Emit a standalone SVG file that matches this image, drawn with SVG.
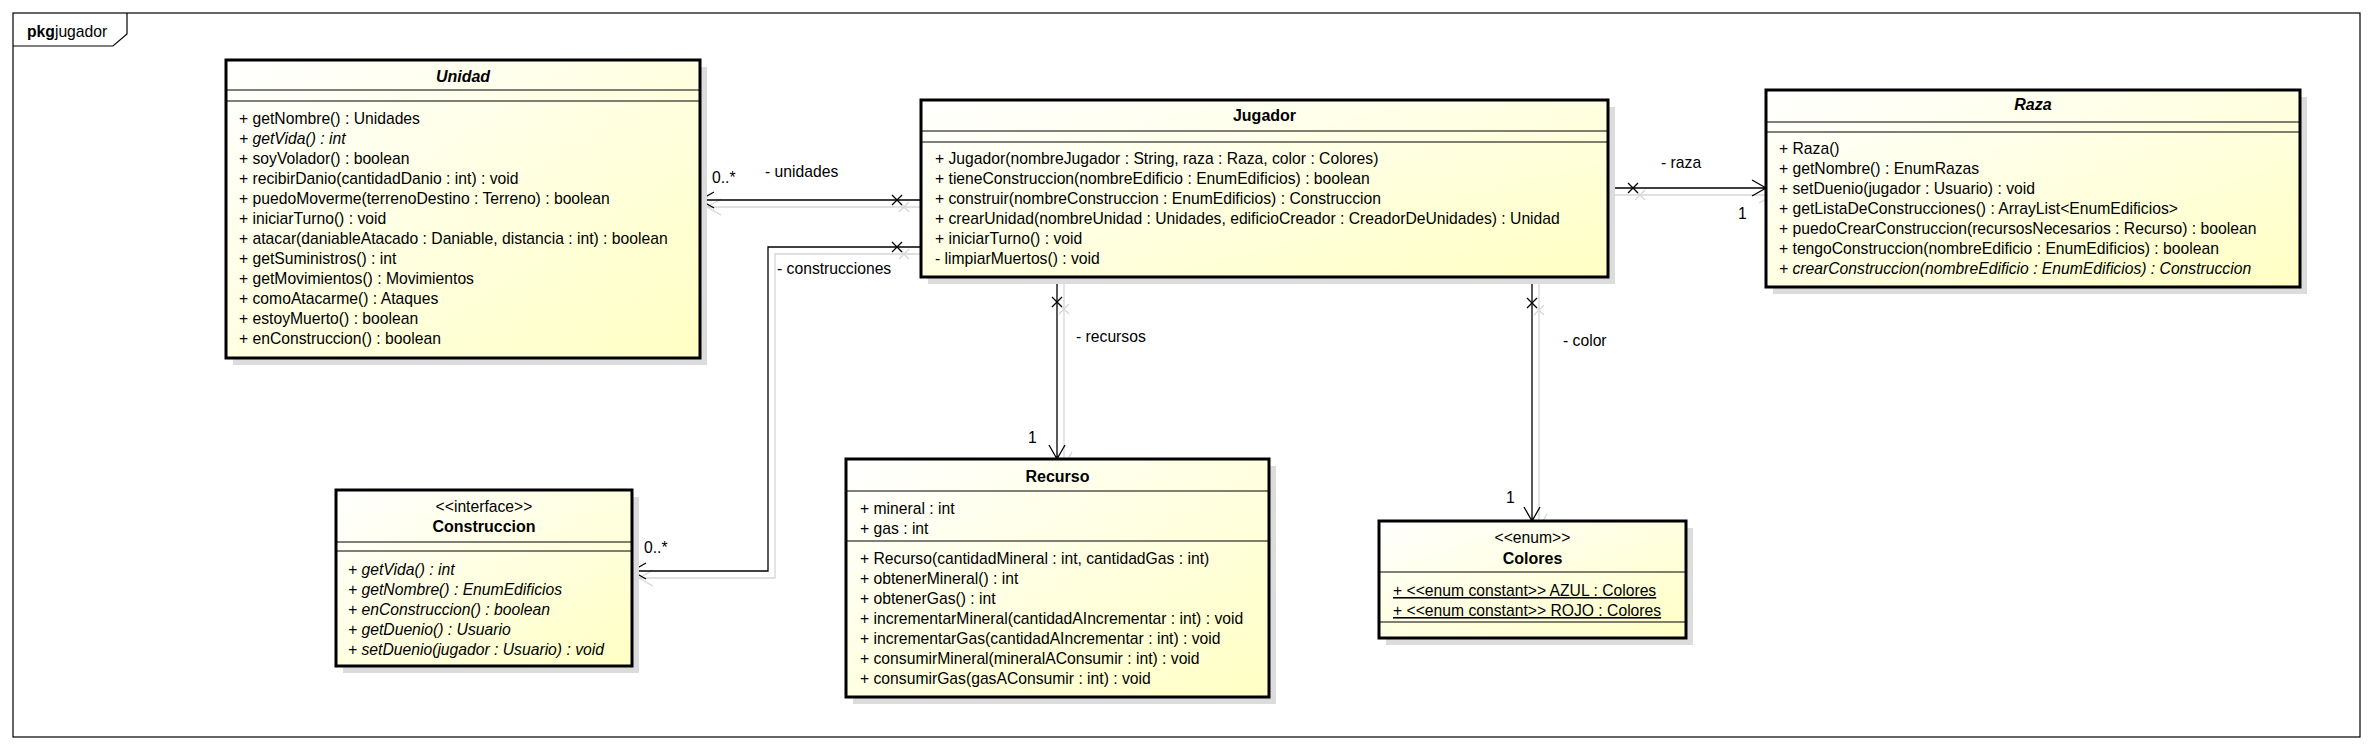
<svg xmlns="http://www.w3.org/2000/svg" width="2372" height="750" viewBox="0 0 2372 750">
<defs>
<linearGradient id="fill" x1="0" y1="0" x2="1" y2="1">
<stop offset="0" stop-color="#ffffff"/>
<stop offset="1" stop-color="#ffffc4"/>
</linearGradient>
</defs>
<style>
text { font-family: "Liberation Sans", Arial, sans-serif; font-size: 15.7px; fill: #000; }
.t { font-weight: bold; font-size: 16px; text-anchor: middle; }
.i { font-style: italic; }
.st { text-anchor: middle; }
.box { fill: url(#fill); stroke: #000; stroke-width: 3; }
.sh { fill: #dcdcdc; }
.sep { stroke: #000; stroke-width: 1.2; }
.ln { fill: none; stroke: #000; stroke-width: 1.3; }
.lns { fill: none; stroke: #d6d6d6; stroke-width: 1.3; }
.u { text-decoration: underline; }
</style>
<rect x="0" y="0" width="2372" height="750" fill="#ffffff"/>
<g id="package">
<rect x="13" y="13" width="2347" height="724" fill="none" stroke="#000" stroke-width="1.2"/>
<path d="M13,46 H113 L127,34 V13" fill="none" stroke="#000" stroke-width="1.2"/>
<text x="27" y="37"><tspan font-weight="bold">pkg</tspan>jugador</text>
</g>
<g id="connectors">
<g class="lns" transform="translate(7,7)">
<path d="M921,200 H700 M714,192 L700,200 L714,208"/>
<path d="M921,247 H768 V571 H632 M646,563 L632,571 L646,579"/>
<path d="M1608,188 H1766 M1752,180 L1766,188 L1752,196"/>
<path d="M1057,277 V459 M1049,445 L1057,459 L1065,445"/>
<path d="M1532,277 V521 M1524,507 L1532,521 L1540,507"/>
<path d="M892,195 L902,205 M902,195 L892,205 M892,242 L902,252 M902,242 L892,252 M1628,183 L1638,193 M1638,183 L1628,193 M1052,297 L1062,307 M1062,297 L1052,307 M1527,298 L1537,308 M1537,298 L1527,308"/>
</g>
<g class="ln">
<path d="M921,200 H700 M714,192 L700,200 L714,208"/>
<path d="M921,247 H768 V571 H632 M646,563 L632,571 L646,579"/>
<path d="M1608,188 H1766 M1752,180 L1766,188 L1752,196"/>
<path d="M1057,277 V459 M1049,445 L1057,459 L1065,445"/>
<path d="M1532,277 V521 M1524,507 L1532,521 L1540,507"/>
<path d="M892,195 L902,205 M902,195 L892,205 M892,242 L902,252 M902,242 L892,252 M1628,183 L1638,193 M1638,183 L1628,193 M1052,297 L1062,307 M1062,297 L1052,307 M1527,298 L1537,308 M1537,298 L1527,308"/>
</g>
<text x="712" y="183">0..*</text>
<text x="765" y="177">- unidades</text>
<text x="777" y="274">- construcciones</text>
<text x="644" y="553">0..*</text>
<text x="1076" y="342">- recursos</text>
<text x="1028" y="443">1</text>
<text x="1661" y="168">- raza</text>
<text x="1738" y="219">1</text>
<text x="1563" y="346">- color</text>
<text x="1506" y="503">1</text>
</g>
<g id="Unidad">
<rect class="sh" x="233" y="67" width="474" height="298"/>
<rect class="box" x="226" y="60" width="474" height="298"/>
<line class="sep" x1="226" y1="90" x2="700" y2="90"/>
<line class="sep" x1="226" y1="101" x2="700" y2="101"/>
<text class="t i" x="463" y="82">Unidad</text>
<text x="239" y="124">+ getNombre() : Unidades</text>
<text x="239" y="144" class="i">+ getVida() : int</text>
<text x="239" y="164">+ soyVolador() : boolean</text>
<text x="239" y="184">+ recibirDanio(cantidadDanio : int) : void</text>
<text x="239" y="204">+ puedoMoverme(terrenoDestino : Terreno) : boolean</text>
<text x="239" y="224">+ iniciarTurno() : void</text>
<text x="239" y="244">+ atacar(daniableAtacado : Daniable, distancia : int) : boolean</text>
<text x="239" y="264">+ getSuministros() : int</text>
<text x="239" y="284">+ getMovimientos() : Movimientos</text>
<text x="239" y="304">+ comoAtacarme() : Ataques</text>
<text x="239" y="324">+ estoyMuerto() : boolean</text>
<text x="239" y="344">+ enConstruccion() : boolean</text>
</g>
<g id="Jugador">
<rect class="sh" x="928" y="107" width="687" height="177"/>
<rect class="box" x="921" y="100" width="687" height="177"/>
<line class="sep" x1="921" y1="131" x2="1608" y2="131"/>
<line class="sep" x1="921" y1="142" x2="1608" y2="142"/>
<text class="t" x="1264.5" y="121">Jugador</text>
<text x="935" y="164">+ Jugador(nombreJugador : String, raza : Raza, color : Colores)</text>
<text x="935" y="184">+ tieneConstruccion(nombreEdificio : EnumEdificios) : boolean</text>
<text x="935" y="204">+ construir(nombreConstruccion : EnumEdificios) : Construccion</text>
<text x="935" y="224">+ crearUnidad(nombreUnidad : Unidades, edificioCreador : CreadorDeUnidades) : Unidad</text>
<text x="935" y="244">+ iniciarTurno() : void</text>
<text x="935" y="264">- limpiarMuertos() : void</text>
</g>
<g id="Raza">
<rect class="sh" x="1773" y="97" width="534" height="197"/>
<rect class="box" x="1766" y="90" width="534" height="197"/>
<line class="sep" x1="1766" y1="122" x2="2300" y2="122"/>
<line class="sep" x1="1766" y1="132" x2="2300" y2="132"/>
<text class="t i" x="2033" y="110">Raza</text>
<text x="1779" y="154">+ Raza()</text>
<text x="1779" y="174">+ getNombre() : EnumRazas</text>
<text x="1779" y="194">+ setDuenio(jugador : Usuario) : void</text>
<text x="1779" y="214">+ getListaDeConstrucciones() : ArrayList&lt;EnumEdificios&gt;</text>
<text x="1779" y="234">+ puedoCrearConstruccion(recursosNecesarios : Recurso) : boolean</text>
<text x="1779" y="254">+ tengoConstruccion(nombreEdificio : EnumEdificios) : boolean</text>
<text x="1779" y="274" class="i">+ crearConstruccion(nombreEdificio : EnumEdificios) : Construccion</text>
</g>
<g id="Recurso">
<rect class="sh" x="853" y="466" width="423" height="238"/>
<rect class="box" x="846" y="459" width="423" height="238"/>
<line class="sep" x1="846" y1="491" x2="1269" y2="491"/>
<line class="sep" x1="846" y1="541" x2="1269" y2="541"/>
<text class="t" x="1057.5" y="482">Recurso</text>
<text x="860" y="514">+ mineral : int</text>
<text x="860" y="534">+ gas : int</text>
<text x="860" y="564">+ Recurso(cantidadMineral : int, cantidadGas : int)</text>
<text x="860" y="584">+ obtenerMineral() : int</text>
<text x="860" y="604">+ obtenerGas() : int</text>
<text x="860" y="624">+ incrementarMineral(cantidadAIncrementar : int) : void</text>
<text x="860" y="644">+ incrementarGas(cantidadAIncrementar : int) : void</text>
<text x="860" y="664">+ consumirMineral(mineralAConsumir : int) : void</text>
<text x="860" y="684">+ consumirGas(gasAConsumir : int) : void</text>
</g>
<g id="Construccion">
<rect class="sh" x="343" y="497" width="296" height="176"/>
<rect class="box" x="336" y="490" width="296" height="176"/>
<line class="sep" x1="336" y1="542" x2="632" y2="542"/>
<line class="sep" x1="336" y1="551" x2="632" y2="551"/>
<text class="st" x="484" y="512">&lt;&lt;interface&gt;&gt;</text>
<text class="t" x="484" y="532">Construccion</text>
<text x="348" y="575" class="i">+ getVida() : int</text>
<text x="348" y="595" class="i">+ getNombre() : EnumEdificios</text>
<text x="348" y="615" class="i">+ enConstruccion() : boolean</text>
<text x="348" y="635" class="i">+ getDuenio() : Usuario</text>
<text x="348" y="655" class="i">+ setDuenio(jugador : Usuario) : void</text>
</g>
<g id="Colores">
<rect class="sh" x="1386" y="528" width="307" height="117"/>
<rect class="box" x="1379" y="521" width="307" height="117"/>
<line class="sep" x1="1379" y1="572" x2="1686" y2="572"/>
<line class="sep" x1="1379" y1="622" x2="1686" y2="622"/>
<text class="st" x="1532.5" y="543">&lt;&lt;enum&gt;&gt;</text>
<text class="t" x="1532.5" y="564">Colores</text>
<text x="1393" y="596" class="u">+ &lt;&lt;enum constant&gt;&gt; AZUL : Colores</text>
<text x="1393" y="616" class="u">+ &lt;&lt;enum constant&gt;&gt; ROJO : Colores</text>
</g>
</svg>
